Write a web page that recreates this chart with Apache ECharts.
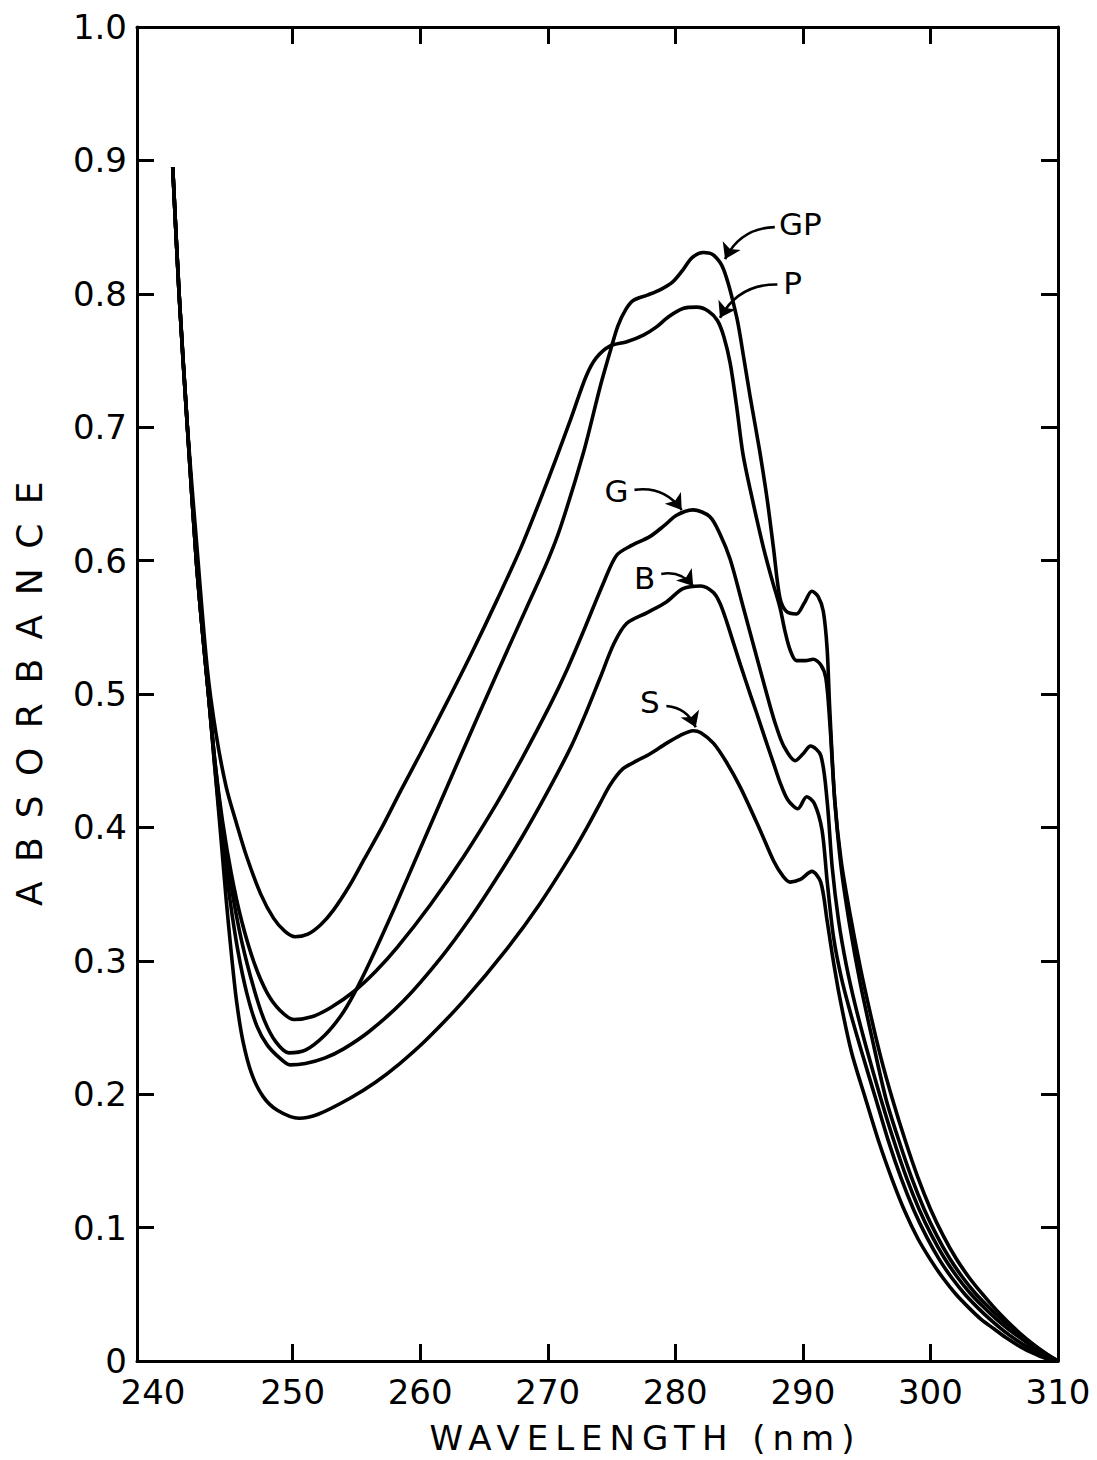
<!DOCTYPE html>
<html>
<head>
<meta charset="utf-8">
<script src="https://cdn.jsdelivr.net/npm/echarts@6/dist/echarts.min.js"></script>
<style>
html,body{margin:0;padding:0;background:#fff;}
#chart{width:1097px;height:1460px;}
</style>
</head>
<body>
<div id="chart"></div>
<script>
// ---- data (wavelength in nm, absorbance) ----
const gpWl  = [240.6,241.1,241.75,242.45,242.9,243.4,243.9,244.5,245.2,246.0,247.0,247.8,248.7,249.7,251.0,252.5,253.8,254.8,256.1,258.0,260.0,263.0,266.0,268.5,270.0,271.0,272.8,274.1,274.9,275.5,276.1,276.7,277.8,278.8,279.8,280.6,281.3,282.2,283.0,283.8,284.8,285.4,285.9,286.6,287.2,287.7,288.2,288.7,289.5,290.1,290.7,291.2,291.6,291.9,292.1,292.5,293.0,293.7,294.5,295.3,296.1,297.0,298.0,299.0,300.0,301.0,302.0,303.0,304.0,305.0,306.0,307.0,308.0,309.0,310.0];
const gpAbs = [0.895,0.80,0.70,0.60,0.55,0.50,0.45,0.40,0.355,0.315,0.278,0.255,0.239,0.231,0.233,0.244,0.259,0.275,0.300,0.340,0.384,0.450,0.515,0.568,0.600,0.625,0.681,0.730,0.757,0.776,0.788,0.795,0.799,0.803,0.809,0.818,0.827,0.831,0.829,0.818,0.783,0.750,0.721,0.683,0.646,0.609,0.572,0.562,0.560,0.568,0.577,0.573,0.562,0.534,0.490,0.420,0.375,0.335,0.295,0.260,0.228,0.197,0.166,0.138,0.114,0.094,0.077,0.063,0.051,0.040,0.030,0.021,0.013,0.006,0.0];

const pWl  = [240.6,241.1,241.75,242.5,243.3,244.0,244.8,245.6,246.4,247.5,248.5,249.4,250.2,251.2,252.2,253.2,254.5,255.6,257.0,258.5,260.0,262.0,264.0,266.0,268.0,270.2,271.8,273.0,273.8,274.9,276.2,277.5,278.5,279.5,280.6,281.7,282.6,283.3,283.8,284.3,284.8,285.3,285.9,286.9,287.6,288.2,288.6,289.0,289.5,290.2,290.8,291.4,291.8,292.1,292.5,293.0,293.7,294.5,295.4,296.5,297.5,298.5,299.5,300.5,301.5,302.5,303.5,304.5,305.5,306.5,307.5,308.5,309.3,310.0];
const pAbs = [0.895,0.80,0.70,0.61,0.52,0.47,0.43,0.403,0.378,0.350,0.332,0.322,0.318,0.320,0.327,0.338,0.357,0.376,0.400,0.428,0.455,0.492,0.530,0.570,0.612,0.665,0.706,0.738,0.752,0.761,0.764,0.769,0.775,0.783,0.789,0.790,0.787,0.780,0.768,0.748,0.716,0.680,0.652,0.610,0.585,0.565,0.547,0.533,0.525,0.525,0.526,0.522,0.512,0.480,0.420,0.370,0.325,0.283,0.243,0.197,0.166,0.138,0.114,0.094,0.077,0.063,0.051,0.041,0.032,0.024,0.016,0.009,0.004,0.0];

const gWl  = [240.6,241.1,241.75,242.45,242.9,243.4,243.9,244.5,245.2,246.0,247.0,248.0,249.0,250.1,251.5,253.0,254.8,256.5,258.2,260.8,263.4,266.0,268.0,270.2,271.5,272.8,274.4,275.4,276.5,278.0,279.1,280.1,281.4,282.7,283.5,284.3,285.3,286.4,287.4,287.9,288.5,289.4,290.0,290.6,291.4,291.9,292.3,292.8,293.4,294.1,295.0,296.1,297.1,298.1,299.1,300.1,301.1,302.1,303.1,304.1,305.1,306.1,307.1,308.1,309.1,310.0];
const gAbs = [0.895,0.80,0.70,0.60,0.55,0.50,0.45,0.405,0.365,0.330,0.298,0.276,0.263,0.256,0.258,0.265,0.277,0.292,0.310,0.342,0.378,0.418,0.452,0.492,0.518,0.547,0.584,0.604,0.611,0.618,0.626,0.634,0.638,0.633,0.620,0.601,0.566,0.527,0.492,0.476,0.461,0.450,0.455,0.461,0.454,0.420,0.370,0.330,0.297,0.267,0.234,0.197,0.166,0.138,0.114,0.094,0.077,0.063,0.051,0.041,0.032,0.024,0.017,0.010,0.004,0.0];

const bWl  = [240.6,241.1,241.75,242.45,242.9,243.4,243.9,244.5,245.1,245.7,246.4,247.2,248.0,249.0,249.8,251.0,252.5,254.0,256.0,258.7,261.6,264.0,266.0,268.0,270.0,271.8,273.0,274.1,275.2,276.2,277.8,279.3,280.6,282.0,283.0,283.5,284.0,284.6,285.1,285.9,286.4,287.2,287.7,288.2,288.8,289.6,290.3,290.9,291.5,291.9,292.4,293.0,293.7,294.6,295.7,296.7,297.7,298.7,299.7,300.7,301.7,302.7,303.7,304.7,305.7,306.7,307.7,308.7,310.0];
const bAbs = [0.895,0.80,0.70,0.60,0.55,0.50,0.445,0.39,0.345,0.308,0.276,0.251,0.237,0.227,0.222,0.223,0.227,0.234,0.247,0.270,0.302,0.333,0.362,0.393,0.427,0.460,0.486,0.512,0.538,0.553,0.561,0.569,0.579,0.581,0.576,0.568,0.555,0.537,0.522,0.499,0.485,0.462,0.448,0.434,0.421,0.414,0.423,0.418,0.398,0.360,0.318,0.288,0.262,0.232,0.197,0.165,0.137,0.113,0.093,0.076,0.062,0.050,0.040,0.031,0.023,0.016,0.010,0.005,0.0];

const sWl  = [240.6,241.1,241.75,242.45,242.9,243.4,243.9,244.4,244.8,245.2,245.6,246.1,246.8,247.7,248.8,250.5,252.0,254.5,256.5,258.4,260.5,263.4,266.8,269.4,272.0,273.2,274.1,274.9,275.9,277.0,278.0,279.3,280.4,281.4,282.0,283.0,284.0,285.1,286.6,287.7,288.4,289.0,289.8,290.7,291.4,291.9,292.3,292.9,293.8,294.9,296.0,297.0,298.0,299.0,300.0,301.0,302.0,303.0,304.0,305.0,306.0,307.0,308.0,309.0,310.0];
const sAbs = [0.895,0.80,0.70,0.60,0.55,0.50,0.445,0.39,0.345,0.305,0.270,0.240,0.215,0.198,0.188,0.182,0.185,0.197,0.209,0.223,0.241,0.270,0.309,0.343,0.382,0.402,0.418,0.432,0.444,0.450,0.455,0.463,0.469,0.4725,0.471,0.463,0.449,0.430,0.399,0.375,0.364,0.359,0.361,0.367,0.359,0.330,0.305,0.272,0.232,0.197,0.163,0.136,0.112,0.092,0.076,0.062,0.050,0.040,0.031,0.024,0.017,0.011,0.006,0.002,0.0];

// tick labels
const xLabelValues = [240,250,260,270,280,290,300,310];
const xTickValues  = [250,260,270,280,290,300];

// annotations (data coordinates)
const annoNames    = ['GP','P','G','B','S'];
const annoLabelWl  = [289.8,289.2,275.4,277.6,278.0];
const annoLabelAbs = [0.852,0.808,0.652,0.587,0.494];
const arrowFromWl  = [287.8,288.0,276.8,278.9,279.3];
const arrowFromAbs = [0.850,0.807,0.653,0.590,0.491];
const arrowToWl    = [283.9,283.5,280.5,281.4,281.6];
const arrowToAbs   = [0.826,0.782,0.638,0.581,0.475];

// ---- styles ----
const arrowBend = [-0.3,-0.3,0.3,0.3,0.3];
const INK = '#000';
const FONT = 'DejaVu Sans';

function zip(a,b){ return a.map((v,i)=>[v,b[i]]); }

const curveSeries = [
  ['GP',gpWl,gpAbs],['P',pWl,pAbs],['G',gWl,gAbs],['B',bWl,bAbs],['S',sWl,sAbs]
].map(([n,w,a])=>({
  name:n, type:'line', data:zip(w,a), showSymbol:false, smooth:0.3,
  lineStyle:{color:INK,width:3.6}, z:3, silent:true
}));

const arrowSeries = {
  type:'lines', name:'arrows', coordinateSystem:'cartesian2d', silent:true, z:4,
  symbol:['none','arrow'], symbolSize:[4,15],
  lineStyle:{color:INK,width:2.6,opacity:1},
  data: annoNames.map((n,i)=>({
    coords:[[arrowFromWl[i],arrowFromAbs[i]],[arrowToWl[i],arrowToAbs[i]]],
    lineStyle:{curveness:arrowBend[i],color:INK,width:2.6,opacity:1}
  }))
};

const labelSeries = {
  type:'scatter', name:'labels', silent:true, z:5,
  data: annoNames.map((n,i)=>({name:n,value:[annoLabelWl[i],annoLabelAbs[i]]})),
  symbolSize:0,
  label:{show:true,position:'inside',formatter:p=>p.name,color:INK,fontSize:31,fontFamily:FONT,opacity:1}
};

const axisLineStyle = {color:INK,width:3};
const xBase = {
  type:'value', min:237.8, max:310,
  axisLine:{show:true,onZero:false,lineStyle:axisLineStyle},
  axisTick:{show:true,inside:true,length:17,lineStyle:{color:INK,width:3},customValues:xTickValues},
  splitLine:{show:false}
};
const yBase = {
  type:'value', min:0, max:1, interval:0.1,
  axisLine:{show:true,onZero:false,lineStyle:axisLineStyle},
  axisTick:{show:true,inside:true,length:17,lineStyle:{color:INK,width:3}},
  splitLine:{show:false}
};

const option = {
  animation:false,
  backgroundColor:'#fff',
  grid:{left:137,right:39,top:27,bottom:97,containLabel:false},
  xAxis:[
    Object.assign({},xBase,{
      position:'bottom',
      name:'WAVELENGTH (nm)', nameLocation:'middle', nameGap:60,
      nameTextStyle:{color:INK,fontSize:34,fontFamily:FONT,padding:[0,0,0,96]},
      axisLabel:{show:true,customValues:xLabelValues,margin:14,color:INK,fontSize:34,fontFamily:FONT,
        formatter:v=> v===240 ? '{l|240}' : String(v),
        rich:{l:{fontSize:34,fontFamily:FONT,color:INK,padding:[0,24,0,0]}}}
    }),
    Object.assign({},xBase,{position:'top',axisLabel:{show:false}})
  ],
  yAxis:[
    Object.assign({},yBase,{
      position:'left',
      name:'ABSORBANCE', nameLocation:'middle', nameGap:90, nameRotate:90,
      nameTextStyle:{color:INK,fontSize:36,fontFamily:FONT,padding:[0,0,0,20]},
      axisLabel:{show:true,margin:10,color:INK,fontSize:34,fontFamily:FONT,
        formatter:v=> Math.abs(v)<1e-9 ? '0' : v.toFixed(1),
        showMinLabel:true, showMaxLabel:true}
    }),
    Object.assign({},yBase,{position:'right',axisLabel:{show:false}})
  ],
  series:[...curveSeries, arrowSeries, labelSeries]
};

const chart = echarts.init(document.getElementById('chart'),null,{renderer:'svg'});
chart.setOption(option);

// widen the letter spacing of the two axis titles, as in the original lettering
function spaceTitles(){
  const spacing = {'ABSORBANCE':'19.5px','WAVELENGTH (nm)':'7px'};
  document.querySelectorAll('#chart text').forEach(t=>{
    const s = spacing[t.textContent];
    if(s){ t.style.letterSpacing = s; }
  });
}
chart.on('finished', spaceTitles);
spaceTitles();
setTimeout(spaceTitles, 50);
</script>
</body>
</html>
